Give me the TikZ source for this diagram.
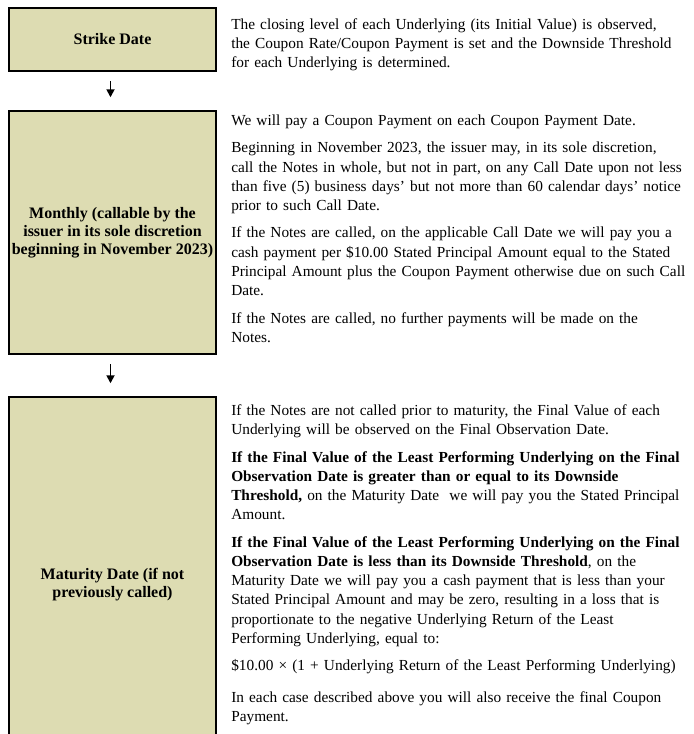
\documentclass[tikz,border=0pt]{standalone}
\usepackage{fontspec}
\setmainfont{Liberation Serif}
\usetikzlibrary{arrows.meta}
\definecolor{boxfill}{RGB}{221,220,178}
\begin{document}
\begin{tikzpicture}[x=0.75pt,y=-0.75pt,
    datebox/.style={draw=black, line width=1.6pt, fill=boxfill, inner sep=0pt,
      minimum width=155.25pt, align=center, font=\fontsize{12pt}{13.6pt}\selectfont\bfseries},
    notes/.style={anchor=north west, inner sep=0pt, text width=360pt, align=left,
      font=\fontsize{11.5pt}{14.4pt}\selectfont\setlength{\parskip}{6.2pt}},
    flowarrow/.style={-{Triangle[length=6pt,width=6pt]}, line width=1.3pt,
      shorten <=7pt, shorten >=9.5pt}]
  \useasboundingbox (0,0) rectangle (693,734);
  \clip (0,0) rectangle (693,734);

  \node[datebox, minimum height=47.25pt] (strike) at (112.5,39.5) {Strike Date};
  \node[datebox, minimum height=182.25pt] (monthly) at (112.5,232.5)
    {Monthly (callable by the\\ issuer in its sole discretion\\ beginning in November 2023)};
  \node[datebox, minimum height=282pt] (maturity) at (112.5,585)
    {Maturity Date (if not\\ previously called)};

  \draw[flowarrow] ([xshift=-1.5pt]strike.south) -- ([xshift=-1.5pt]monthly.north);
  \draw[flowarrow] ([xshift=-1.5pt]monthly.south) -- ([xshift=-1.5pt]maturity.north);

  \node[notes] (striketxt) at (231,18)
    {The closing level of each Underlying (its Initial Value) is observed,\\
     the Coupon Rate/Coupon Payment is set and the Downside Threshold\\
     for each Underlying is determined.};

  \node[notes] (monthlytxt) at (231,114.5)
    {We will pay a Coupon Payment on each Coupon Payment Date.\par
     Beginning in November 2023, the issuer may, in its sole discretion,\\
     call the Notes in whole, but not in part, on any Call Date upon not less\\
     than five (5) business days’ but not more than 60 calendar days’ notice\\
     prior to such Call Date.\par
     If the Notes are called, on the applicable Call Date we will pay you a\\
     cash payment per \$10.00 Stated Principal Amount equal to the Stated\\
     Principal Amount plus the Coupon Payment otherwise due on such Call\\
     Date.\par
     If the Notes are called, no further payments will be made on the\\
     Notes.};

  \node[notes] (maturitytxt) at (231,404.5)
    {If the Notes are not called prior to maturity, the Final Value of each\\
     Underlying will be observed on the Final Observation Date.\par
     \textbf{If the Final Value of the Least Performing Underlying on the Final}\\
     \textbf{Observation Date is greater than or equal to its Downside}\\
     \textbf{Threshold,} on the Maturity Date\ \ we will pay you the Stated Principal\\
     Amount.\par
     \textbf{If the Final Value of the Least Performing Underlying on the Final}\\
     \textbf{Observation Date is less than its Downside Threshold}, on the\\
     Maturity Date we will pay you a cash payment that is less than your\\
     Stated Principal Amount and may be zero, resulting in a loss that is\\
     proportionate to the negative Underlying Return of the Least\\
     Performing Underlying, equal to:\par
     \$10.00 × (1 + Underlying Return of the Least Performing Underlying)\par
     \vspace{3pt}In each case described above you will also receive the final Coupon\\
     Payment.};
\end{tikzpicture}
\end{document}
